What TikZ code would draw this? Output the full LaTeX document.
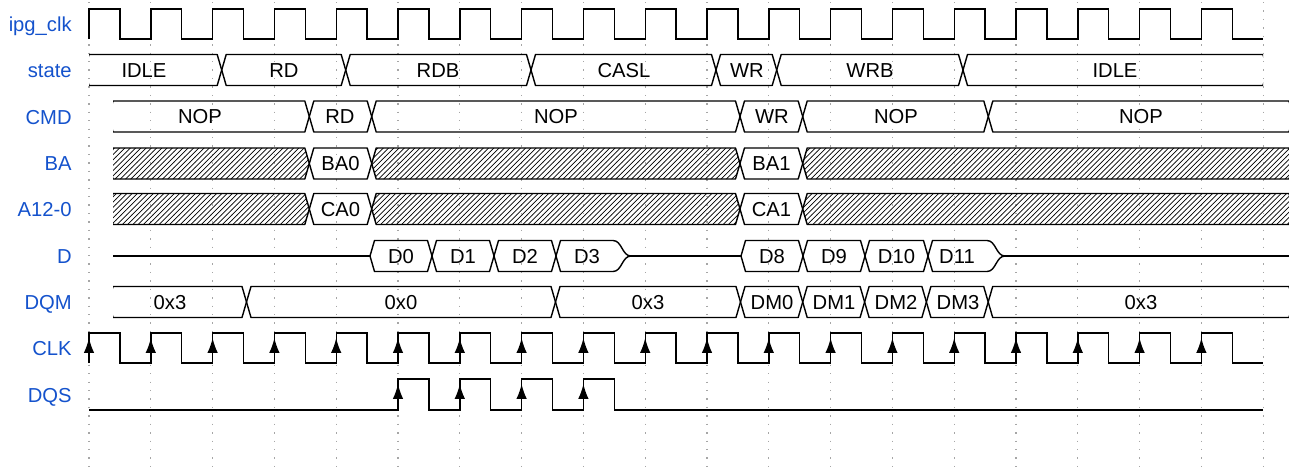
\documentclass[tikz,border=0pt]{standalone}
\usepackage{fontspec}
\setmainfont{Liberation Sans}
\usetikzlibrary{arrows.meta,patterns}
\definecolor{labelblue}{RGB}{20,82,204}
\begin{document}
\begin{tikzpicture}[x=0.02cm,y=-0.02cm,
    every node/.style={font=\fontsize{11.5}{13}\selectfont,inner sep=0pt,text height=8.2pt,text depth=0pt},
    sig/.style={line width=0.8pt,line join=miter},
    bus/.style={line width=0.8pt,line join=bevel},
    lbl/.style={labelblue,anchor=east},
    gridline/.style={gray!70,line width=0.7pt,dash pattern=on 0.8pt off 4pt},
    hatch/.style={pattern=north east lines},
    rise/.style={line width=0.8pt,-{Latex[length=8.5pt,width=6pt]}}]
  \useasboundingbox (0,0) rectangle (1289,468);
  \foreach \k in {0,...,19}
    \draw[gridline] ({89+61.8*\k},2) -- ({89+61.8*\k},466);

  \node[lbl] (ipgclk) at (72,24) {ipg\_clk};
  \node[lbl] (state) at (72,70) {state};
  \node[lbl] (cmd) at (72,117) {CMD};
  \node[lbl] (ba) at (72,163) {BA};
  \node[lbl] (addr) at (72,209) {A12-0};
  \node[lbl] (dq) at (72,256) {D};
  \node[lbl] (dqm) at (72,302) {DQM};
  \node[lbl] (clk) at (72,348) {CLK};
  \node[lbl] (dqs) at (72,395) {DQS};

  \draw[sig] (89,39) \foreach \k in {0,...,18} {
      -- ({89+61.8*\k},9) -- ({89+61.8*\k+30.9},9)
      -- ({89+61.8*\k+30.9},39) -- ({89+61.8*(\k+1)},39)};

  \begin{scope}
    \clip (89,40) rectangle (1263,100);
    \foreach \a/\b/\tx/\txt [count=\i] in {84.5/221.7/144/IDLE, 221.7/345.7/284/RD,
        345.7/531/438/RDB, 531/716/624/CASL, 716/776.7/747/WR, 776.7/963/870/WRB,
        963/1267.5/1115/IDLE}
      \draw[bus] (\a,70) -- (\a+4.5,54.5) -- (\b-4.5,54.5) -- (\b,70) -- (\b-4.5,85.5) -- (\a+4.5,85.5) -- cycle
        node (st\i) at (\tx,70) {\txt};
  \end{scope}

  \begin{scope}
    \clip (113,90) rectangle (1289,140);
    \foreach \a/\b/\tx/\txt [count=\i] in {108.5/309.3/200/NOP, 309.3/371.7/340/RD,
        371.7/740/556/NOP, 740/802.7/772/WR, 802.7/988.3/896/NOP, 988.3/1293.5/1141/NOP}
      \draw[bus] (\a,116.5) -- (\a+4.5,101) -- (\b-4.5,101) -- (\b,116.5) -- (\b-4.5,132) -- (\a+4.5,132) -- cycle
        node (cmd\i) at (\tx,116.5) {\txt};
  \end{scope}

  \begin{scope}
    \clip (113,140) rectangle (1289,235);
    \foreach \y/\p/\q in {163.5/BA0/BA1, 209/CA0/CA1} {
      \foreach \a/\b in {108.5/309.3, 371.7/740, 802.7/1293.5}
        \draw[bus,hatch] (\a,\y) -- (\a+4.5,\y-15.5) -- (\b-4.5,\y-15.5) -- (\b,\y) -- (\b-4.5,\y+15.5) -- (\a+4.5,\y+15.5) -- cycle;
      \draw[bus] (309.3,\y) -- (313.8,\y-15.5) -- (367.2,\y-15.5) -- (371.7,\y) -- (367.2,\y+15.5) -- (313.8,\y+15.5) -- cycle
        node (\p) at (340.5,\y) {\p};
      \draw[bus] (740,\y) -- (744.5,\y-15.5) -- (798.2,\y-15.5) -- (802.7,\y) -- (798.2,\y+15.5) -- (744.5,\y+15.5) -- cycle
        node (\q) at (771.4,\y) {\q};
    }
  \end{scope}

  \draw[sig] (113,256) -- (370,256);
  \draw[sig] (631,256) -- (741,256);
  \draw[sig] (1005,256) -- (1289,256);
  \foreach \a/\b/\txt in {370/432/D0, 432/494/D1, 494/556/D2, 741/803/D8, 803/865/D9, 865/928/D10}
    \draw[bus] (\a,256) -- (\a+4.5,240.5) -- (\b-4.5,240.5) -- (\b,256) -- (\b-4.5,271.5) -- (\a+4.5,271.5) -- cycle
      node (\txt) at ({(\a+\b)/2},256) {\txt};
  \foreach \a/\c/\tx/\txt in {556/613/587/D3, 928/987/957/D11}
    \draw[bus] (\a,256) -- (\a+4.5,240.5) -- (\c,240.5) .. controls (\c+9,240.5) and (\c+9,256) .. (\c+18,256)
      .. controls (\c+9,256) and (\c+9,271.5) .. (\c,271.5) -- (\a+4.5,271.5) -- cycle
      node (\txt) at (\tx,256) {\txt};

  \begin{scope}
    \clip (113,280) rectangle (1289,325);
    \foreach \a/\b/\tx/\txt [count=\i] in {108.5/246.5/170/0x3, 246.5/555.5/401/0x0,
        555.5/740.5/648/0x3, 740.5/802.7/772/DM0, 802.7/864.6/834/DM1,
        864.6/926.4/896/DM2, 926.4/988.2/958/DM3, 988.2/1293.5/1141/0x3}
      \draw[bus] (\a,302) -- (\a+4.5,286.5) -- (\b-4.5,286.5) -- (\b,302) -- (\b-4.5,317.5) -- (\a+4.5,317.5) -- cycle
        node (dqm\i) at (\tx,302) {\txt};
  \end{scope}

  \draw[sig] (89,363) \foreach \k in {0,...,18} {
      -- ({89+61.8*\k},333) -- ({89+61.8*\k+30.9},333)
      -- ({89+61.8*\k+30.9},363) -- ({89+61.8*(\k+1)},363)};
  \foreach \k in {0,...,18}
    \draw[rise] ({89+61.8*\k},358) -- ({89+61.8*\k},338);

  \draw[sig] (89,410) \foreach \k in {5,...,8} {
      -- ({89+61.8*\k},410) -- ({89+61.8*\k},379)
      -- ({89+61.8*\k+30.9},379) -- ({89+61.8*\k+30.9},410)} -- (1263,410);
  \foreach \k in {5,...,8}
    \draw[rise] ({89+61.8*\k},404) -- ({89+61.8*\k},384);
\end{tikzpicture}
\end{document}
